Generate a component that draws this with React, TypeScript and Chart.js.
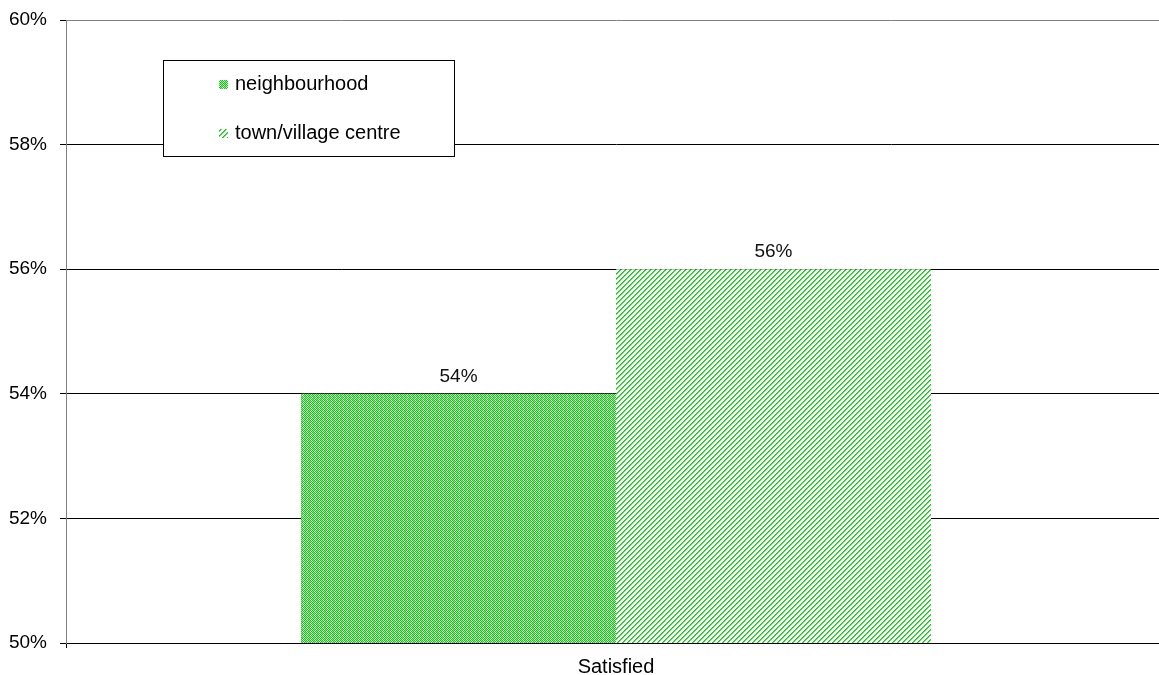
import React, { useEffect, useRef } from "react";
import { Chart, registerables } from "chart.js";

Chart.register(...registerables);

const categories = ["Satisfied"];
const seriesNames = ["neighbourhood", "town/village centre"];
const neighbourhoodValues = [54];
const townCentreValues = [56];
const yTicks = [50, 52, 54, 56, 58, 60];

const FONT = "'Liberation Sans', Arial, sans-serif";

// Speckled green fill used for the neighbourhood bar
function makeDotPattern(ctx: CanvasRenderingContext2D): CanvasPattern | string {
  const c = document.createElement("canvas");
  c.width = 4;
  c.height = 4;
  const g = c.getContext("2d");
  if (!g) return "#22cc22";
  const G = "#12c812";
  const L = "#8fe28f";
  const W = "#f4fcf4";
  const cols = [
    [G, L, G, W],
    [W, G, L, G],
    [G, L, G, W],
    [L, G, W, G],
  ];
  for (let y = 0; y < 4; y++)
    for (let x = 0; x < 4; x++) {
      g.fillStyle = cols[y][x];
      g.fillRect(x, y, 1, 1);
    }
  return ctx.createPattern(c, "repeat") || "#22cc22";
}

// Diagonal green hatching used for the town/village centre bar
function makeStripePattern(ctx: CanvasRenderingContext2D): CanvasPattern | string {
  const n = 5;
  const c = document.createElement("canvas");
  c.width = n;
  c.height = n;
  const g = c.getContext("2d");
  if (!g) return "#22cc22";
  g.fillStyle = "#ffffff";
  g.fillRect(0, 0, n, n);
  for (let y = 0; y < n; y++) {
    const x0 = (n - 1 - y) % n;
    g.fillStyle = "#18c818";
    g.fillRect(x0, y, 1, 1);
    g.fillStyle = "#5fd65f";
    g.fillRect((x0 + 1) % n, y, 1, 1);
  }
  return ctx.createPattern(c, "repeat") || "#22cc22";
}

export default function App() {
  const ref = useRef<HTMLCanvasElement | null>(null);

  useEffect(() => {
    document.body.style.margin = "0";
    const canvas = ref.current;
    if (!canvas) return;
    const ctx = canvas.getContext("2d");
    if (!ctx) return;

    const dotFill = makeDotPattern(ctx);
    const stripeFill = makeStripePattern(ctx);
    const fills = [dotFill, stripeFill];

    const valueLabels = {
      id: "valueLabels",
      afterDatasetsDraw(chart: any) {
        const c = chart.ctx;
        c.save();
        c.font = `19px ${FONT}`;
        c.fillStyle = "#111";
        c.textAlign = "center";
        c.textBaseline = "bottom";
        chart.data.datasets.forEach((ds: any, i: number) => {
          const meta = chart.getDatasetMeta(i);
          meta.data.forEach((bar: any, j: number) => {
            c.fillText(ds.data[j] + "%", bar.x, bar.y - 8);
          });
        });
        c.restore();
      },
    };

    const boxLegend = {
      id: "boxLegend",
      afterDraw(chart: any) {
        const c = chart.ctx;
        const a = chart.chartArea;
        const x = a.left + 97;
        const y = a.top + 40;
        const w = 291;
        const h = 96;
        c.save();
        c.fillStyle = "#fff";
        c.fillRect(x, y, w, h);
        c.strokeStyle = "#000";
        c.lineWidth = 1;
        c.strokeRect(x + 0.5, y + 0.5, w, h);
        c.font = `20px ${FONT}`;
        c.textBaseline = "middle";
        c.textAlign = "left";
        seriesNames.forEach((name, i) => {
          const cy = y + 24 + i * 49;
          c.fillStyle = fills[i];
          c.fillRect(x + 56, cy - 4, 9, 9);
          c.fillStyle = "#000";
          c.fillText(name, x + 72, cy);
        });
        c.restore();
      },
    };

    const chart = new Chart(ctx, {
      type: "bar",
      data: {
        labels: categories,
        datasets: [
          {
            label: seriesNames[0],
            data: neighbourhoodValues,
            backgroundColor: dotFill as any,
            borderWidth: 0,
            categoryPercentage: 0.5727,
            barPercentage: 1,
          },
          {
            label: seriesNames[1],
            data: townCentreValues,
            backgroundColor: stripeFill as any,
            borderWidth: 0,
            categoryPercentage: 0.5727,
            barPercentage: 1,
          },
        ],
      },
      options: {
        responsive: false,
        animation: false,
        devicePixelRatio: 1,
        layout: { padding: { top: 20, right: 0, left: 0, bottom: 0 } },
        plugins: {
          legend: { display: false },
          tooltip: { enabled: false },
        },
        scales: {
          x: {
            type: "category",
            offset: true,
            grid: {
              drawOnChartArea: false,
              drawTicks: true,
              tickLength: 5,
              color: "#000",
            },
            border: { color: "#000", width: 1 },
            ticks: {
              color: "#000",
              padding: 7,
              font: { family: FONT, size: 20 },
            },
            afterFit(scale: any) {
              scale.height = 32;
              scale.paddingLeft = 0;
              scale.paddingRight = 0;
            },
          },
          y: {
            min: yTicks[0],
            max: yTicks[yTicks.length - 1],
            afterBuildTicks(scale: any) {
              scale.ticks = yTicks.map((v) => ({ value: v }));
            },
            grid: {
              color: (c: any) => (c.tick && c.tick.value === 60 ? "#808080" : "#000"),
              tickColor: "#000",
              tickLength: 6,
              lineWidth: 1,
            },
            border: { color: "#808080", width: 1 },
            ticks: {
              color: "#000",
              padding: 13,
              font: { family: FONT, size: 19 },
              callback: (v: any) => v + "%",
            },
            afterFit(scale: any) {
              scale.width = 66;
              scale.paddingTop = 0;
              scale.paddingBottom = 0;
            },
          },
        },
      },
      plugins: [valueLabels, boxLegend],
    });

    return () => chart.destroy();
  }, []);

  return (
    <div style={{ width: 1159, height: 675, overflow: "hidden" }}>
      <canvas ref={ref} width={1166} height={675} style={{ display: "block" }} />
    </div>
  );
}
